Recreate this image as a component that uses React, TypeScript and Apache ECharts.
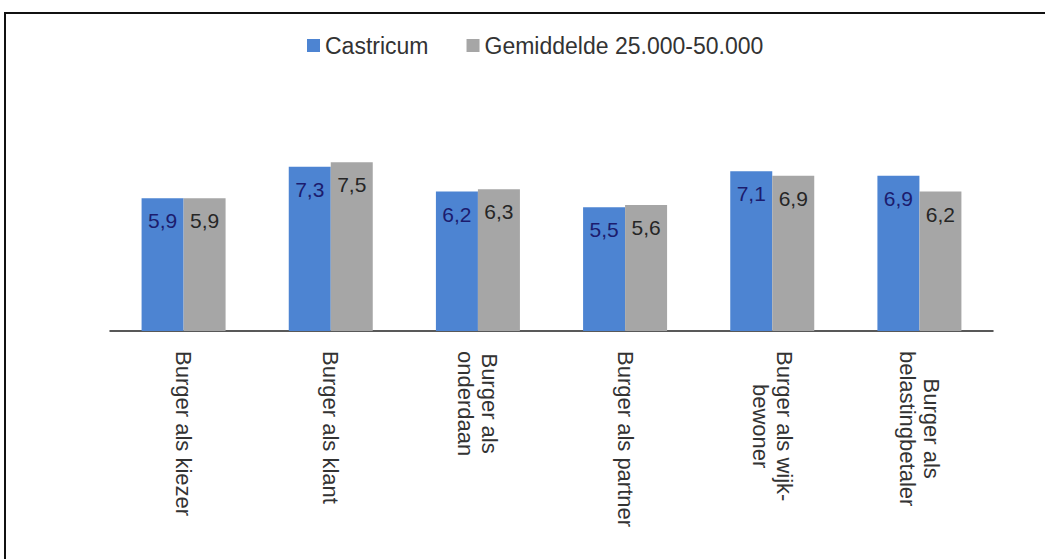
import React, { useEffect, useRef } from "react";
import * as echarts from "echarts";

const categories = [
  "Burger als kiezer",
  "Burger als klant",
  "Burger als\nonderdaan",
  "Burger als partner",
  "Burger als wijk-\nbewoner",
  "Burger als\nbelastingbetaler",
];
const seriesNames = ["Castricum", "Gemiddelde 25.000-50.000"];
const castricum = [5.9, 7.3, 6.2, 5.5, 7.1, 6.9];
const gemiddelde = [5.9, 7.5, 6.3, 5.6, 6.9, 6.2];

const FONT = "'Liberation Sans', Arial, sans-serif";
const fmt = (v: number) => v.toFixed(1).replace(".", ",");

export default function App() {
  const ref = useRef<HTMLDivElement>(null);
  useEffect(() => {
    if (!ref.current) return;
    const chart = echarts.init(ref.current, null, { renderer: "svg" });
    chart.setOption({
      animation: false,
      backgroundColor: "#fff",
      legend: {
        data: seriesNames,
        left: 307,
        top: 34,
        padding: 0,
        itemWidth: 13,
        itemHeight: 13,
        itemGap: 38,
        icon: "rect",
        textStyle: { fontFamily: FONT, fontSize: 23, color: "#333" },
      },
      grid: { left: 110, right: 52, bottom: 228, top: 106 },
      xAxis: {
        type: "category",
        data: categories,
        axisLine: { lineStyle: { color: "#222", width: 1.5 } },
        axisTick: { length: 6, lineStyle: { color: "#222", width: 1.5 } },
        axisLabel: {
          rotate: -90,
          margin: 20,
          interval: 0,
          formatter: (v: string) =>
            v.split("\n").map((l) => `{c|${l}}`).join("\n"),
          rich: {
            c: { align: "center", fontFamily: FONT, fontSize: 22, color: "#333", lineHeight: 24 },
          },
        },
      },
      yAxis: { type: "value", min: 0, max: 10, show: false, splitLine: { show: false } },
      series: [
        {
          name: seriesNames[0],
          type: "bar",
          data: castricum,
          barWidth: 42,
          barGap: "0%",
          itemStyle: { color: "#4d84d2" },
          label: {
            show: true,
            position: "insideTop",
            distance: 12,
            formatter: (p: any) => fmt(p.value),
            fontFamily: FONT,
            fontSize: 21,
            color: "#1c1c6e",
          },
        },
        {
          name: seriesNames[1],
          type: "bar",
          data: gemiddelde,
          barWidth: 42,
          barGap: "0%",
          itemStyle: { color: "#a6a6a6" },
          label: {
            show: true,
            position: "insideTop",
            distance: 12,
            formatter: (p: any) => fmt(p.value),
            fontFamily: FONT,
            fontSize: 21,
            color: "#262626",
          },
        },
      ],
      graphic: [
        {
          type: "rect",
          shape: { x: 5, y: 13, width: 1100, height: 600 },
          style: { fill: "none", stroke: "#111", lineWidth: 2 },
          silent: true,
        },
      ],
    });
    return () => chart.dispose();
  }, []);
  return (
    <div
      ref={ref}
      style={{ position: "absolute", left: 0, top: 0, width: 1045, height: 559 }}
    />
  );
}
